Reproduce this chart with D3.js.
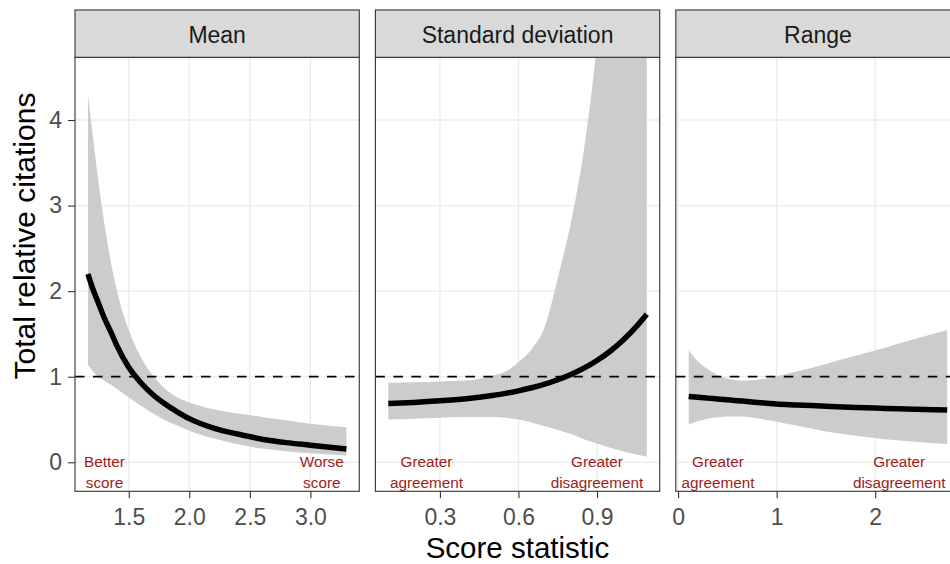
<!DOCTYPE html>
<html>
<head>
<meta charset="utf-8">
<script src="https://cdn.jsdelivr.net/npm/d3@7"></script>
<style>
  html, body { margin: 0; padding: 0; background: #fff; }
  svg { display: block; font-family: "Liberation Sans", Arial, sans-serif; }
</style>
</head>
<body>
<div id="chart"></div>
<script>
// facet titles
const facets = ["Mean", "Standard deviation", "Range"];

// Mean panel
const meanX   = [1.163, 1.2, 1.25, 1.3, 1.35, 1.4, 1.5, 1.6, 1.7, 1.8, 1.9, 2.0, 2.2, 2.4, 2.6, 2.8, 3.0, 3.297];
const meanFit = [2.20, 2.04, 1.86, 1.68, 1.53, 1.37, 1.11, 0.93, 0.79, 0.68, 0.59, 0.51, 0.40, 0.33, 0.27, 0.23, 0.20, 0.155];
const meanLo  = [1.14, 1.07, 1.00, 0.95, 0.91, 0.86, 0.76, 0.66, 0.57, 0.49, 0.43, 0.37, 0.28, 0.21, 0.16, 0.13, 0.105, 0.08];
const meanHi  = [4.30, 3.85, 3.28, 2.78, 2.36, 2.02, 1.55, 1.23, 1.01, 0.86, 0.76, 0.70, 0.62, 0.57, 0.53, 0.49, 0.45, 0.41];

// Standard deviation panel
const sdX   = [0.103, 0.2, 0.3, 0.4, 0.5, 0.55, 0.6, 0.65, 0.7, 0.75, 0.8, 0.85, 0.9, 0.95, 1.0, 1.05, 1.09];
const sdFit = [0.688, 0.70, 0.718, 0.743, 0.781, 0.805, 0.835, 0.871, 0.913, 0.965, 1.027, 1.101, 1.19, 1.298, 1.429, 1.585, 1.73];
const sdLo  = [0.50, 0.51, 0.52, 0.53, 0.53, 0.52, 0.50, 0.465, 0.42, 0.377, 0.33, 0.27, 0.22, 0.17, 0.13, 0.09, 0.065];
const sdHi  = [0.93, 0.935, 0.945, 0.955, 1.01, 1.06, 1.17, 1.32, 1.58, 2.15, 2.8, 3.65, 4.9, 6.6, 8.9, 12, 15.5];

// Range panel
const rangeX   = [0.108, 0.2, 0.3, 0.4, 0.5, 0.6, 0.7, 0.8, 0.9, 1.0, 1.2, 1.5, 1.8, 2.1, 2.4, 2.73];
const rangeFit = [0.77, 0.76, 0.75, 0.74, 0.73, 0.72, 0.71, 0.70, 0.69, 0.68, 0.67, 0.655, 0.64, 0.63, 0.62, 0.61];
const rangeLo  = [0.44, 0.48, 0.51, 0.525, 0.535, 0.535, 0.53, 0.515, 0.495, 0.475, 0.43, 0.36, 0.31, 0.27, 0.24, 0.214];
const rangeHi  = [1.31, 1.18, 1.09, 1.02, 0.98, 0.96, 0.955, 0.965, 0.98, 1.005, 1.06, 1.15, 1.245, 1.34, 1.44, 1.545];

// ticks
const yTicks = [0, 1, 2, 3, 4];
const meanTicks = [1.5, 2.0, 2.5, 3.0];
const sdTicks = [0.3, 0.6, 0.9];
const rangeTicks = [0, 1, 2];

// reference line
const refLine = 1;

// annotation labels (x in data units)
const meanLabels  = [{x: 1.30, lines: ["Better", "score"]}, {x: 3.094, lines: ["Worse", "score"]}];
const sdLabels    = [{x: 0.249, lines: ["Greater", "agreement"]}, {x: 0.90, lines: ["Greater", "disagreement"]}];
const rangeLabels = [{x: 0.405, lines: ["Greater", "agreement"]}, {x: 2.244, lines: ["Greater", "disagreement"]}];

const panels = [
    {title: facets[0], xs: meanX, fit: meanFit, lo: meanLo, hi: meanHi, ticks: meanTicks, fmt: d3.format(".1f"), labels: meanLabels},
    {title: facets[1], xs: sdX, fit: sdFit, lo: sdLo, hi: sdHi, ticks: sdTicks, fmt: d3.format(".1f"), labels: sdLabels},
    {title: facets[2], xs: rangeX, fit: rangeFit, lo: rangeLo, hi: rangeHi, ticks: rangeTicks, fmt: d3.format("d"), labels: rangeLabels}
];

const width = 950;
const height = 564;
const left0 = 75;
const panelW = 284.3;
const gap = 16.1;
const stripTop = 10;
const plotTop = 57.3;
const plotBottom = 491.3;

const svg = d3.select('#chart')
    .append('svg')
    .attr('width', width)
    .attr('height', height)
    .attr('viewBox', [0, 0, width, height]);

const y = d3.scaleLinear()
    .domain([-0.339, 4.733])
    .range([plotBottom, plotTop]);

panels.forEach((p, i) => {
    const x0 = left0 + i * (panelW + gap);
    const ext = d3.extent(p.xs);
    const pad = (ext[1] - ext[0]) * 0.05;
    const x = d3.scaleLinear()
        .domain([ext[0] - pad, ext[1] + pad])
        .range([x0, x0 + panelW]);

    const g = svg.append('g');

    // clip region
    const clipId = 'clip' + i;
    svg.append('clipPath').attr('id', clipId)
        .append('rect')
        .attr('x', x0).attr('y', plotTop)
        .attr('width', panelW).attr('height', plotBottom - plotTop);

    // grid
    g.append('g')
        .selectAll('line')
        .data(yTicks)
        .join('line')
        .attr('x1', x0).attr('x2', x0 + panelW)
        .attr('y1', d => y(d)).attr('y2', d => y(d))
        .attr('stroke', '#ebebeb')
        .attr('stroke-width', 1.3);
    g.append('g')
        .selectAll('line')
        .data(p.ticks)
        .join('line')
        .attr('x1', d => x(d)).attr('x2', d => x(d))
        .attr('y1', plotTop).attr('y2', plotBottom)
        .attr('stroke', '#ebebeb')
        .attr('stroke-width', 1.3);

    const rows = p.xs.map((v, k) => ({x: v, fit: p.fit[k], lo: p.lo[k], hi: p.hi[k]}));

    // ribbon
    g.append('path')
        .datum(rows)
        .attr('clip-path', `url(#${clipId})`)
        .attr('fill', '#cccccc')
        .attr('d', d3.area()
            .curve(d3.curveMonotoneX)
            .x(d => x(d.x))
            .y0(d => y(d.lo))
            .y1(d => y(d.hi)));

    // reference line
    g.append('line')
        .attr('x1', x0).attr('x2', x0 + panelW)
        .attr('y1', y(refLine)).attr('y2', y(refLine))
        .attr('stroke', '#000')
        .attr('stroke-width', 1.8)
        .attr('stroke-dasharray', '9.5,8.5');

    // fitted line
    g.append('path')
        .datum(rows)
        .attr('clip-path', `url(#${clipId})`)
        .attr('fill', 'none')
        .attr('stroke', '#000')
        .attr('stroke-width', 5.5)
        .attr('d', d3.line()
            .curve(d3.curveMonotoneX)
            .x(d => x(d.x))
            .y(d => y(d.fit)));

    // annotations
    const lab = g.append('g')
        .selectAll('text')
        .data(p.labels)
        .join('text')
        .attr('text-anchor', 'middle')
        .attr('fill', '#a01c1c')
        .style('font-size', '15.3px');
    lab.selectAll('tspan')
        .data(d => d.lines.map(t => ({t, x: d.x})))
        .join('tspan')
        .attr('x', d => x(d.x))
        .attr('y', (d, k) => y(0) + 4.4 + k * 21.6)
        .text(d => d.t);

    // panel border
    g.append('rect')
        .attr('x', x0).attr('y', plotTop)
        .attr('width', panelW).attr('height', plotBottom - plotTop)
        .attr('fill', 'none')
        .attr('stroke', '#333')
        .attr('stroke-width', 1.1);

    // strip
    g.append('rect')
        .attr('x', x0).attr('y', stripTop)
        .attr('width', panelW).attr('height', plotTop - stripTop)
        .attr('fill', '#d9d9d9')
        .attr('stroke', '#333')
        .attr('stroke-width', 1.1);
    g.append('text')
        .attr('x', x0 + panelW / 2)
        .attr('y', 42.5)
        .attr('text-anchor', 'middle')
        .attr('fill', '#1a1a1a')
        .style('font-size', '23px')
        .text(p.title);

    // x axis
    const xa = g.append('g')
        .attr('transform', `translate(0,${plotBottom})`)
        .call(d3.axisBottom(x).tickValues(p.ticks).tickFormat(p.fmt).tickSize(7).tickPadding(10));
    xa.select('.domain').remove();
    xa.selectAll('.tick line').attr('stroke', '#333').attr('stroke-width', 1.1);
    xa.selectAll('.tick text')
        .attr('fill', '#4d4d4d')
        .style('font-size', '23px')
        .style('font-family', '"Liberation Sans", Arial, sans-serif');

    if (i === 0) {
        const ya = g.append('g')
            .attr('transform', `translate(${x0},0)`)
            .call(d3.axisLeft(y).tickValues(yTicks).tickFormat(d3.format('d')).tickSize(7).tickPadding(6));
        ya.select('.domain').remove();
        ya.selectAll('.tick line').attr('stroke', '#333').attr('stroke-width', 1.1);
        ya.selectAll('.tick text')
            .attr('fill', '#4d4d4d')
            .style('font-size', '23px')
            .style('font-family', '"Liberation Sans", Arial, sans-serif');
    }
});

// axis titles
svg.append('text')
    .attr('x', 517.5)
    .attr('y', 558)
    .attr('text-anchor', 'middle')
    .attr('fill', '#000')
    .style('font-size', '29.5px')
    .text('Score statistic');

svg.append('text')
    .attr('transform', 'translate(35,236) rotate(-90)')
    .attr('text-anchor', 'middle')
    .attr('fill', '#000')
    .style('font-size', '30px')
    .text('Total relative citations');
</script>
</body>
</html>
